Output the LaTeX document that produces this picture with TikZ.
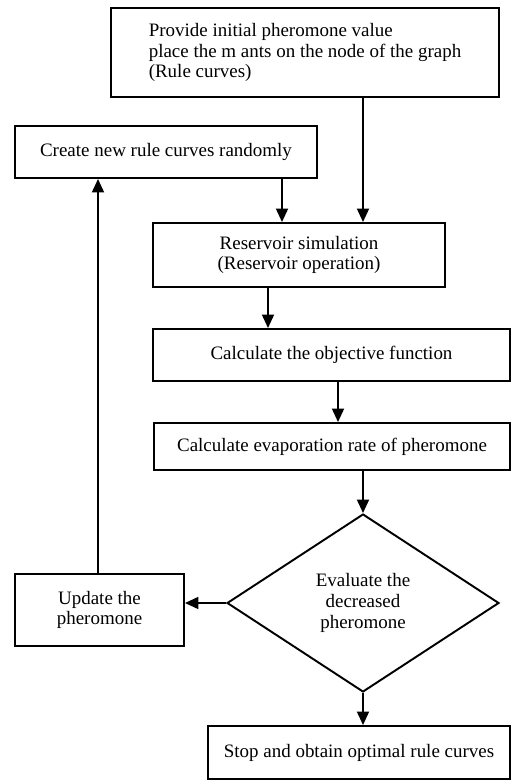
\documentclass[tikz,border=0pt]{standalone}
\usepackage{fontspec}
\setmainfont{Liberation Serif}
\usepackage{xcolor}
\usetikzlibrary{shapes,arrows,arrows.meta,positioning,calc}

\begin{document}
\begin{tikzpicture}[x=0.02cm,y=-0.02cm,>={Triangle[width=0.24cm,length=0.27cm]},
  every node/.style={font=\fontsize{10.8}{11.8}\selectfont},
  stepbox/.style={draw=black,line width=1.1pt,rectangle,inner sep=2pt,align=center},
  testbox/.style={draw=black,line width=1.1pt,diamond,inner sep=0pt,align=center},
  flow/.style={->,line width=1.1pt}]

\useasboundingbox (0,0) rectangle (511,780);

\path
  (282,0) coordinate (xa)
  (268,0) coordinate (xb)
  (338,0) coordinate (xc)
  (98,0) coordinate (xd);

\node[stepbox,align=left,minimum width=7.76cm,minimum height=1.78cm] (provide) at (305,52.5)
  {Provide initial pheromone value\\place the m ants on the node of the graph\\(Rule curves)};
\node[stepbox,minimum width=6.04cm,minimum height=1.04cm] (create) at (166,152) {Create new rule curves randomly};
\node[stepbox,minimum width=5.84cm,minimum height=1.28cm] (reservoir) at (299,255) {Reservoir simulation\\(Reservoir operation)};
\node[stepbox,minimum width=7.14cm,minimum height=1.04cm] (objective) at (331.5,355) {Calculate the objective function};
\node[stepbox,minimum width=7.12cm,minimum height=0.94cm] (evaporation) at (332,446.5) {Calculate evaporation rate of pheromone};
\node[testbox,minimum width=5.44cm,minimum height=3.56cm] (decrease) at (363,603) {Evaluate the\\decreased\\pheromone};
\node[stepbox,minimum width=3.38cm,minimum height=1.44cm] (update) at (99.5,610) {Update the\\pheromone};
\node[stepbox,minimum width=6.04cm,minimum height=1.06cm] (stop) at (359,752.5) {Stop and obtain optimal rule curves};

% main flow
\draw[flow] (provide.south -| decrease) -- (reservoir.north -| decrease);
\draw[flow] (create.south -| xa) -- (reservoir.north -| xa);
\draw[flow] (reservoir.south -| xb) -- (objective.north -| xb);
\draw[flow] (objective.south -| xc) -- (evaporation.north -| xc);
\draw[flow] (evaporation.south -| decrease) -- (decrease.north);
\draw[flow] (decrease.south) -- (stop.north -| decrease);

% loop back
\draw[flow] (decrease.west) -- (update.east |- decrease.west);
\draw[flow] (update.north -| xd) -- (create.south -| xd);

\end{tikzpicture}
\end{document}
